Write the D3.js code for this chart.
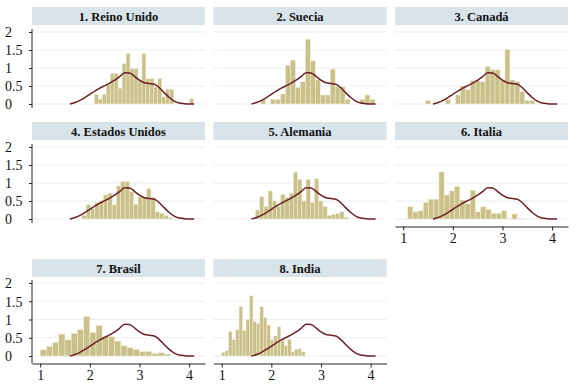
<!DOCTYPE html>
<html>
<head>
<meta charset="utf-8">
<script src="https://cdn.jsdelivr.net/npm/d3@7"></script>
<style>
  body { margin: 0; background: #fff; }
  svg { display: block; }
</style>
</head>
<body>
<svg id="chart" width="579" height="391"></svg>
<script>
// panel titles, in reading order
const panelNames = ['1. Reino Unido', '2. Suecia', '3. Canadá', '4. Estados Unidos',
  '5. Alemania', '6. Italia', '7. Brasil', '8. India'];

// histogram bins: left edge of first bin and bin width per panel
const binStarts = [2.09, 1.786, 1.45, 1.84, 1.68, 1.09, 1.0, 1.0];
const binWidths = [0.08, 0.1, 0.1, 0.087, 0.085, 0.105, 0.125, 0.07];

// density heights of each bin
const reinoUnido = [0.27, 0.14, 0.27, 0.55, 0.85, 0.85, 0.44, 1.12, 1.40, 0.98, 0.98, 0.67,
  1.40, 0.70, 0.70, 0.47, 0.70, 0.20, 0.41, 0.41, 0, 0, 0, 0, 0.15];
const suecia = [0.12, 0, 0.13, 0.13, 0.28, 1.08, 1.22, 0.46, 0.62, 1.80, 1.20, 0.67, 0.25,
  0.25, 0.97, 0.48, 0.48, 0.13, 0, 0, 0.13, 0.25, 0.13];
const canada = [0.1, 0, 0, 0, 0.13, 0, 0.25, 0.5, 0.4, 0.65, 0.65, 0.62, 1.04, 0.95, 0.95,
  0.67, 1.52, 0.67, 0.62, 0.35, 0.1, 0.1];
const estadosUnidos = [0.1, 0.4, 0.3, 0.46, 0.5, 0.67, 0.72, 0.4, 0.92, 1.04, 1.04, 0.76,
  0.41, 0.62, 0.6, 0.84, 0.6, 0.2, 0.16, 0.1, 0.05, 0, 0.04, 0.04];
const alemania = [0.25, 0.62, 0.35, 0.78, 0.5, 0.35, 0.68, 0.6, 0.72, 1.30, 1.10, 0.50, 1.10,
  0.45, 1.12, 0.50, 0.35, 0.10, 0.12, 0.15, 0.20, 0.05, 0, 0, 0.04];
const italia = [0.34, 0.2, 0.23, 0.46, 0.55, 0.55, 1.31, 0.67, 0.78, 0.9, 0.53, 0.43, 0.8,
  0.2, 0.34, 0.27, 0.16, 0.16, 0.23, 0.02, 0.14, 0.02, 0, 0, 0, 0.02, 0.02];
const brasil = [0.17, 0.26, 0.37, 0.6, 0.44, 0.62, 0.72, 1.08, 0.64, 0.83, 0.53, 0.53, 0.41,
  0.28, 0.23, 0.18, 0.12, 0.12, 0.07, 0.09, 0.05];
const india = [0.10, 0.15, 0.67, 0.45, 0.72, 1.35, 0.70, 1.00, 1.65, 0.95, 0.90, 1.35, 1.05,
  0.85, 0.45, 0.55, 0.80, 0.42, 0.28, 0.46, 0.12, 0.18, 0.20, 0.12];
const panelHeights = [reinoUnido, suecia, canada, estadosUnidos, alemania, italia, brasil, india];

// reference kernel density (same curve in every panel)
const densityX = [1.6, 1.7, 1.8, 1.9, 2.0, 2.1, 2.2, 2.3, 2.4, 2.5, 2.6, 2.7, 2.8, 2.9, 3.0,
  3.1, 3.2, 3.3, 3.4, 3.5, 3.6, 3.7, 3.8, 3.9, 4.0, 4.1];
const densityY = [0.00, 0.04, 0.10, 0.18, 0.27, 0.36, 0.44, 0.51, 0.58, 0.66, 0.76, 0.87, 0.86,
  0.77, 0.66, 0.59, 0.57, 0.55, 0.45, 0.31, 0.18, 0.08, 0.03, 0.01, 0.00, 0.00];

const xTicks = [1, 2, 3, 4];
const yTicks = [0, 0.5, 1, 1.5, 2];

// layout
const colX = [32, 213.5, 395];
const panelW = 173;
const rows = [
  { head: 7, y0: 104, y2: 32 },
  { head: 122, y0: 219, y2: 147 },
  { head: 259, y0: 356, y2: 283 },
];
const withXAxis = [5, 6, 7];
const font = "'Liberation Serif', 'Times New Roman', serif";

const svg = d3.select('#chart');
svg.append('rect').attr('width', 579).attr('height', 391).attr('fill', '#fff');

const curve = densityX.map((x, i) => ({ x, y: densityY[i] }));

panelNames.forEach((name, p) => {
  const col = p % 3;
  const r = rows[Math.floor(p / 3)];
  const x0 = colX[col];
  const x = d3.scaleLinear().domain([0.835, 4.32]).range([x0, x0 + panelW]);
  const y = d3.scaleLinear().domain([0, 2]).range([r.y0, r.y2]);
  const g = svg.append('g');

  // header strip
  g.append('rect')
    .attr('x', x0).attr('y', r.head)
    .attr('width', panelW).attr('height', 18)
    .attr('fill', '#d9e4ea');
  g.append('text')
    .attr('x', x0 + panelW / 2).attr('y', r.head + 13.5)
    .attr('text-anchor', 'middle')
    .attr('font-family', font).attr('font-size', '12.5px').attr('font-weight', 'bold')
    .attr('fill', '#111')
    .text(name);

  // grid
  g.selectAll('.grid')
    .data(yTicks)
    .enter()
    .append('line')
    .attr('x1', x0).attr('x2', x0 + panelW)
    .attr('y1', (d) => y(d)).attr('y2', (d) => y(d))
    .attr('stroke', '#e8eef1').attr('stroke-width', 1);

  // bars
  const bins = panelHeights[p]
    .map((h, i) => ({ lo: binStarts[p] + i * binWidths[p], hi: binStarts[p] + (i + 1) * binWidths[p], h }))
    .filter((d) => d.h > 0);
  g.selectAll('.bar')
    .data(bins)
    .enter()
    .append('rect')
    .attr('x', (d) => x(d.lo))
    .attr('width', (d) => x(d.hi) - x(d.lo))
    .attr('y', (d) => y(d.h))
    .attr('height', (d) => y(0) - y(d.h))
    .attr('fill', '#cac18a')
    .attr('stroke', '#f3f0dc')
    .attr('stroke-width', 0.5);

  // density line
  g.append('path')
    .datum(curve)
    .attr('d', d3.line().x((d) => x(d.x)).y((d) => y(d.y)).curve(d3.curveMonotoneX))
    .attr('fill', 'none')
    .attr('stroke', '#6d1f27')
    .attr('stroke-width', 1.5);

  const hasX = withXAxis.includes(p);
  const bottom = hasX ? r.y0 + 7.5 : r.y0 + 4;

  // y axis on the first column only
  if (col === 0) {
    const ay = g.append('g')
      .attr('transform', `translate(${x0},0)`)
      .call(d3.axisLeft(y).tickValues(yTicks).tickSize(3).tickSizeOuter(0).tickFormat(d3.format('')));
    ay.select('.domain').remove();
    ay.selectAll('line').attr('stroke', '#222');
    ay.selectAll('text')
      .attr('x', 5 - x0).attr('dy', '0.35em')
      .attr('text-anchor', 'start')
      .attr('font-family', font).attr('font-size', '14px').attr('fill', '#111');
    g.append('line')
      .attr('x1', x0).attr('x2', x0)
      .attr('y1', r.y2 - 3).attr('y2', bottom)
      .attr('stroke', '#222').attr('stroke-width', 1);
  }

  if (hasX) {
    const ax = g.append('g')
      .attr('transform', `translate(0,${bottom})`)
      .call(d3.axisBottom(x).tickValues(xTicks).tickSize(4).tickSizeOuter(0).tickFormat(d3.format('d')));
    ax.select('.domain').attr('stroke', '#222');
    ax.selectAll('line').attr('stroke', '#222');
    ax.selectAll('text')
      .attr('y', 7)
      .attr('font-family', font).attr('font-size', '14px').attr('fill', '#111');
  }
});
</script>
</body>
</html>
